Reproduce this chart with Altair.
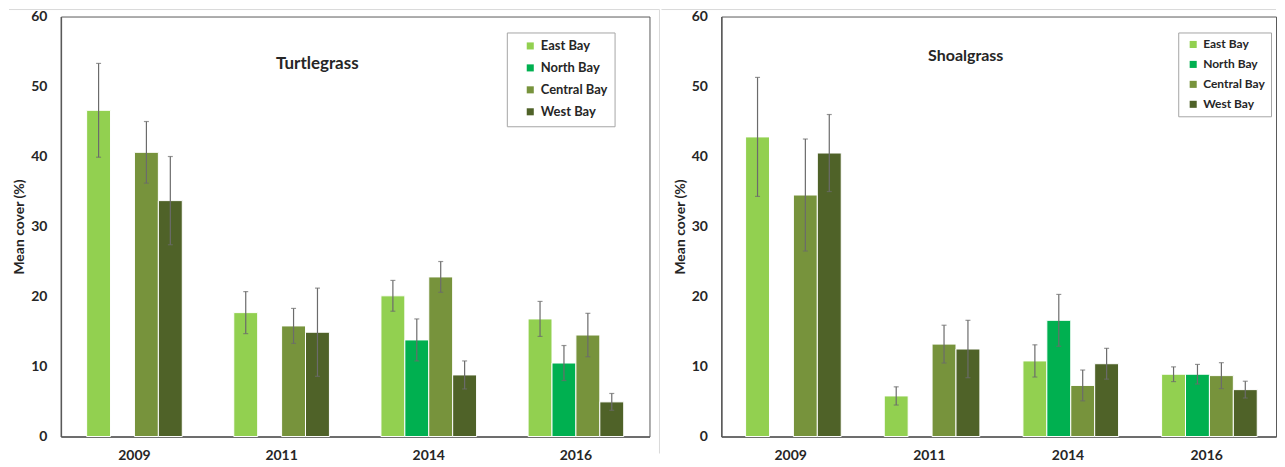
import altair as alt
import pandas as pd

years = ["2009", "2011", "2014", "2016"]
bays = ["East Bay", "North Bay", "Central Bay", "West Bay"]
colors = ["#92D050", "#00B050", "#77933C", "#4F6228"]

# Turtlegrass mean cover (%) and error per bay, per year
turtle_east = [46.6, 17.7, 20.1, 16.8]
turtle_north = [None, None, 13.8, 10.5]
turtle_central = [40.6, 15.8, 22.8, 14.5]
turtle_west = [33.7, 14.9, 8.8, 4.95]
turtle_east_err = [6.7, 3.0, 2.2, 2.5]
turtle_north_err = [None, None, 3.0, 2.5]
turtle_central_err = [4.4, 2.5, 2.2, 3.1]
turtle_west_err = [6.3, 6.3, 2.0, 1.2]

# Shoalgrass mean cover (%) and error per bay, per year
shoal_east = [42.8, 5.8, 10.8, 8.9]
shoal_north = [None, None, 16.6, 8.9]
shoal_central = [34.5, 13.2, 7.3, 8.7]
shoal_west = [40.5, 12.5, 10.4, 6.7]
shoal_east_err = [8.5, 1.3, 2.3, 1.05]
shoal_north_err = [None, None, 3.7, 1.4]
shoal_central_err = [8.0, 2.7, 2.2, 1.85]
shoal_west_err = [5.5, 4.1, 2.2, 1.2]

FONT = "Lato"
AX = "#595959"


def build_df(means, errs):
    rows = []
    for bay, m_list, e_list in zip(bays, means, errs):
        for yr, m, e in zip(years, m_list, e_list):
            if m is not None:
                rows.append({"year": yr, "bay": bay, "mean": m, "err": e})
    return pd.DataFrame(rows)


def panel(df, title, tx, ty, tsize, lx, ly, lsize, lpad, loff, lrow, width,
          sep=None, top_x1=-60, top_x2=0):
    base = alt.Chart(df).transform_calculate(
        lo="datum.mean - datum.err", hi="datum.mean + datum.err"
    )
    x = alt.X(
        "year:N",
        scale=alt.Scale(domain=years, paddingInner=0.35, paddingOuter=0.175),
        axis=alt.Axis(
            title=None, labelAngle=0, ticks=False, labelFont=FONT,
            labelFontSize=14, labelFontWeight="bold", labelColor="#262626",
            labelPadding=12, domainColor=AX, domainWidth=1.5,
        ),
    )
    xo = alt.XOffset("bay:N", scale=alt.Scale(domain=bays))
    y = alt.Y(
        "mean:Q",
        scale=alt.Scale(domain=[0, 60], nice=False),
        axis=alt.Axis(
            values=[0, 10, 20, 30, 40, 50, 60], title="Mean cover (%)",
            grid=False, ticks=False, labelFont=FONT, labelFontSize=14,
            labelFontWeight="bold", labelColor="#262626", labelPadding=14,
            titleFont=FONT, titleFontSize=14, titleFontWeight="bold",
            titleColor="#262626", titlePadding=4, domainColor=AX, domainWidth=1.5,
        ),
    )
    bars = base.mark_bar(stroke="white", strokeWidth=1).encode(
        x=x, xOffset=xo, y=y,
        color=alt.Color(
            "bay:N",
            scale=alt.Scale(domain=bays, range=colors),
            legend=alt.Legend(
                title=None, orient="none", legendX=lx, legendY=ly,
                symbolType="square", symbolSize=50, symbolStrokeWidth=0,
                labelFont=FONT, labelFontSize=lsize, labelFontWeight="bold",
                labelColor="#262626", strokeColor="#a6a6a6", fillColor="white",
                padding=lpad, symbolOffset=loff, labelOffset=4, rowPadding=lrow,
            ),
        ),
    )
    rule = base.mark_rule(color="#6b6b6b", strokeWidth=1.2).encode(
        x="year:N", xOffset="bay:N", y="lo:Q", y2="hi:Q"
    )
    cap_hi = base.mark_tick(color="#6b6b6b", orient="horizontal", size=5, thickness=1.2).encode(
        x="year:N", xOffset="bay:N", y="hi:Q"
    )
    cap_lo = base.mark_tick(color="#6b6b6b", orient="horizontal", size=5, thickness=1.2).encode(
        x="year:N", xOffset="bay:N", y="lo:Q"
    )
    ttl = alt.Chart(pd.DataFrame({"t": [title]})).mark_text(
        font=FONT, fontSize=tsize, fontWeight="bold", color="#262626"
    ).encode(text="t:N", x=alt.value(tx), y=alt.value(ty))
    layers = [bars, rule, cap_hi, cap_lo, ttl]
    deco = pd.DataFrame({"a": [0]})
    top = alt.Chart(deco).mark_rule(color="#d9d9d9", strokeWidth=1).encode(
        x=alt.value(top_x1), x2=alt.value(top_x2), y=alt.value(-7)
    )
    layers.append(top)
    if sep is not None:
        vline = alt.Chart(deco).mark_rule(color="#d9d9d9", strokeWidth=1).encode(
            x=alt.value(sep), y=alt.value(-7), y2=alt.value(438)
        )
        layers.append(vline)
    return alt.layer(*layers).properties(width=width, height=421)


left = panel(
    build_df([turtle_east, turtle_north, turtle_central, turtle_west],
             [turtle_east_err, turtle_north_err, turtle_central_err, turtle_west_err]),
    "Turtlegrass", 257, 48, 17, 447, 16, 13, 7, 10, 8, 590,
    sep=600, top_x1=-52, top_x2=600,
)
right = panel(
    build_df([shoal_east, shoal_north, shoal_central, shoal_west],
             [shoal_east_err, shoal_north_err, shoal_central_err, shoal_west_err]),
    "Shoalgrass", 245, 40, 16, 458, 16, 12, 6, 3, 8, 556,
    top_x1=-60, top_x2=556,
)

chart = (
    alt.hconcat(left, right, spacing=0)
    .resolve_scale(color="independent")
    .resolve_legend(color="independent")
    .configure_view(stroke=AX, strokeWidth=1)
    .properties(padding={"left": 0, "top": 0, "right": 0, "bottom": 0}, background="white")
)

chart.save("out.html", embed_options={"renderer": "svg", "actions": False})
